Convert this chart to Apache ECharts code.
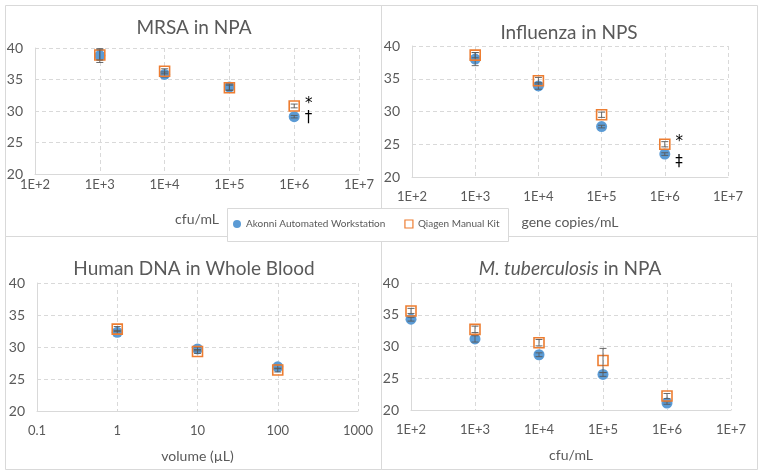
<!DOCTYPE html>
<html>
<head>
<meta charset="utf-8">
<script src="https://cdn.jsdelivr.net/npm/echarts@6/dist/echarts.min.js"></script>
<style>html,body{margin:0;padding:0;background:#fff;}#c{width:763px;height:474px;}</style>
</head>
<body>
<div id="c"></div>
<script>
// ---- data ----
const seriesNames = ['Akonni Automated Workstation', 'Qiagen Manual Kit'];

const mrsaX = [1e3, 1e4, 1e5, 1e6];
const mrsaAkonni = [38.8, 35.8, 33.8, 29.1];
const mrsaAkonniErr = [1.1, 0.4, 0.5, 0.2];
const mrsaQiagen = [38.9, 36.3, 33.7, 30.8];
const mrsaQiagenErr = [0.8, 0.4, 0.4, 0.3];
const mrsaAkonniNote = ['', '', '', '†'];
const mrsaQiagenNote = ['', '', '', '*'];

const fluX = [1e3, 1e4, 1e5, 1e6];
const fluAkonni = [38.0, 33.9, 27.7, 23.5];
const fluAkonniErr = [1.0, 0.5, 0.2, 0.2];
const fluQiagen = [38.6, 34.7, 29.5, 25.0];
const fluQiagenErr = [0.4, 0.5, 0.4, 0.4];
const fluAkonniNote = ['', '', '', '‡'];
const fluQiagenNote = ['', '', '', '*'];

const dnaX = [1, 10, 100];
const dnaAkonni = [32.3, 29.7, 26.9];
const dnaAkonniErr = [0.3, 0.3, 0.3];
const dnaQiagen = [32.8, 29.3, 26.4];
const dnaQiagenErr = [0.4, 0.3, 0.3];

const mtbX = [1e2, 1e3, 1e4, 1e5, 1e6];
const mtbAkonni = [34.3, 31.2, 28.7, 25.6, 21.1];
const mtbAkonniErr = [0.3, 0.5, 0.3, 0.3, 0.2];
const mtbQiagen = [35.6, 32.7, 30.6, 27.8, 22.2];
const mtbQiagenErr = [0.4, 0.5, 0.5, 1.9, 0.4];

const titles = ['MRSA in NPA', 'Influenza in NPS', 'Human DNA in Whole Blood', '{i|M. tuberculosis}{n| in NPA}'];
const xNames = ['cfu/mL', 'gene copies/mL', 'volume (µL)', 'cfu/mL'];
const yTicks = {min: 20, max: 40, interval: 5};

// ---- styles ----
const BLUE = '#5B9BD5', ORANGE = '#ED7D31', TXT = '#595959', GRID = '#d9d9d9';
const FONT = 'Lato, "Open Sans", sans-serif';

const grids = [
  {left: 35, top: 48, width: 324, height: 126},
  {left: 412, top: 46, width: 316, height: 131},
  {left: 37, top: 283, width: 321, height: 128},
  {left: 411, top: 283, width: 320, height: 127}
];
const xRanges = [[1e2, 1e7], [1e2, 1e7], [0.1, 1000], [1e2, 1e7]];
const xLabelMargins = [4, 13, 13, 13];
const titlePos = [[194, 18], [569, 23], [194, 259], [570, 259]];

const panels = [
  {x: mrsaX, a: mrsaAkonni, ae: mrsaAkonniErr, q: mrsaQiagen, qe: mrsaQiagenErr, an: mrsaAkonniNote, qn: mrsaQiagenNote},
  {x: fluX, a: fluAkonni, ae: fluAkonniErr, q: fluQiagen, qe: fluQiagenErr, an: fluAkonniNote, qn: fluQiagenNote},
  {x: dnaX, a: dnaAkonni, ae: dnaAkonniErr, q: dnaQiagen, qe: dnaQiagenErr},
  {x: mtbX, a: mtbAkonni, ae: mtbAkonniErr, q: mtbQiagen, qe: mtbQiagenErr}
];

function expFmt(v) { return '1E+' + Math.round(Math.log10(v)); }
function plainFmt(v) { return String(+v.toPrecision(6)); }

function errRender(params, api) {
  const x = api.value(0), y = api.value(1), e = api.value(2);
  const t = api.coord([x, y + e]);
  const b = api.coord([x, y - e]);
  const w = 3.5;
  const st = {stroke: '#595959', lineWidth: 0.9};
  return {type: 'group', children: [
    {type: 'line', shape: {x1: t[0], y1: t[1], x2: b[0], y2: b[1]}, style: st},
    {type: 'line', shape: {x1: t[0] - w, y1: t[1], x2: t[0] + w, y2: t[1]}, style: st},
    {type: 'line', shape: {x1: b[0] - w, y1: b[1], x2: b[0] + w, y2: b[1]}, style: st}
  ]};
}

function pts(xs, ys, notes, offY) {
  return xs.map((x, i) => {
    const item = {value: [x, ys[i]]};
    if (notes && notes[i]) {
      item.label = {show: true, formatter: notes[i], position: 'right', distance: 5,
        offset: [0, offY], color: '#000', fontSize: 15, fontFamily: 'DejaVu Sans, sans-serif'};
    }
    return item;
  });
}

const xAxes = [], yAxes = [], series = [], titleOpts = [];
panels.forEach((p, k) => {
  xAxes.push({
    type: 'log', logBase: 10, gridIndex: k, min: xRanges[k][0], max: xRanges[k][1], splitNumber: 5,
    name: xNames[k], nameLocation: 'middle', nameGap: 38,
    nameTextStyle: {color: TXT, fontSize: 14, fontFamily: FONT},
    axisLine: {show: true, onZero: false, lineStyle: {color: GRID, width: 1}},
    axisTick: {show: false}, minorTick: {show: false},
    axisLabel: {color: TXT, fontSize: 13, fontFamily: FONT, margin: xLabelMargins[k],
      formatter: k === 2 ? plainFmt : expFmt},
    splitLine: {show: true, lineStyle: {color: GRID, type: [4, 3], width: 1}}
  });
  yAxes.push({
    type: 'value', gridIndex: k, min: yTicks.min, max: yTicks.max, interval: yTicks.interval,
    axisLine: {show: true, lineStyle: {color: GRID, width: 1}},
    axisTick: {show: false},
    axisLabel: {color: TXT, fontSize: 14, fontFamily: FONT, margin: 12},
    splitLine: {show: true, lineStyle: {color: GRID, type: [4, 3], width: 1}}
  });
  series.push({
    name: seriesNames[0], type: 'scatter', xAxisIndex: k, yAxisIndex: k, clip: false,
    symbol: 'circle', symbolSize: 11, itemStyle: {color: BLUE, opacity: 1}, z: 2,
    data: pts(p.x, p.a, p.an, k === 1 ? 8 : 1)
  });
  series.push({
    type: 'custom', xAxisIndex: k, yAxisIndex: k, renderItem: errRender, z: 3, silent: true,
    data: p.x.map((x, i) => [x, p.a[i], p.ae[i]])
  });
  series.push({
    name: seriesNames[1], type: 'scatter', xAxisIndex: k, yAxisIndex: k, clip: false,
    symbol: 'rect', symbolSize: 10,
    itemStyle: {color: 'rgba(255,255,255,0)', borderColor: ORANGE, borderWidth: 1.6, opacity: 1}, z: 4,
    data: pts(p.x, p.q, p.qn, -2)
  });
  series.push({
    type: 'custom', xAxisIndex: k, yAxisIndex: k, renderItem: errRender, z: 5, silent: true,
    data: p.x.map((x, i) => [x, p.q[i], p.qe[i]])
  });
  titleOpts.push({
    text: titles[k], left: titlePos[k][0], top: titlePos[k][1], textAlign: 'center', padding: 0,
    textStyle: {color: TXT, fontSize: 19, fontWeight: 'normal', fontFamily: FONT,
      rich: {i: {fontStyle: 'italic', fontSize: 19, color: TXT, fontFamily: FONT},
             n: {fontSize: 19, color: TXT, fontFamily: FONT}}}
  });
});

const chart = echarts.init(document.getElementById('c'), null, {renderer: 'canvas'});
chart.setOption({
  animation: false,
  backgroundColor: '#fff',
  title: titleOpts,
  grid: grids,
  xAxis: xAxes,
  yAxis: yAxes,
  series: series,
  legend: {
    z: 20, left: 233, top: 217, padding: 0, itemGap: 19, itemWidth: 8, itemHeight: 8,
    textStyle: {color: TXT, fontSize: 10, fontFamily: FONT, lineHeight: 14},
    data: [
      {name: seriesNames[0], icon: 'circle', itemStyle: {color: BLUE}},
      {name: seriesNames[1], icon: 'rect', itemStyle: {color: 'rgba(255,255,255,0)', borderColor: ORANGE, borderWidth: 1.2}}
    ],
    selectedMode: false
  },
  graphic: [
    {type: 'rect', z: -1, shape: {x: 5.5, y: 5.5, width: 376, height: 231}, style: {fill: 'none', stroke: GRID, lineWidth: 1}},
    {type: 'rect', z: -1, shape: {x: 381.5, y: 5.5, width: 376, height: 231}, style: {fill: 'none', stroke: GRID, lineWidth: 1}},
    {type: 'rect', z: -1, shape: {x: 5.5, y: 236.5, width: 376, height: 233}, style: {fill: 'none', stroke: GRID, lineWidth: 1}},
    {type: 'rect', z: -1, shape: {x: 381.5, y: 236.5, width: 376, height: 233}, style: {fill: 'none', stroke: GRID, lineWidth: 1}},
    {type: 'rect', z: 10, shape: {x: 227.5, y: 208.5, width: 281, height: 33}, style: {fill: '#fff', stroke: GRID, lineWidth: 1}}
  ]
});
</script>
</body>
</html>
